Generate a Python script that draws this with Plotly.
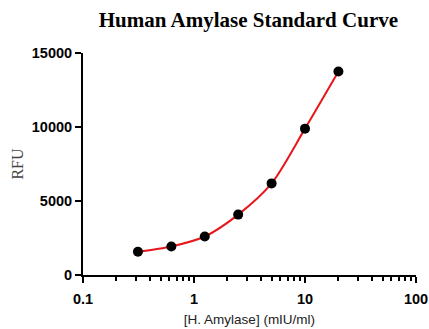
import plotly.graph_objects as go

conc = [0.3125, 0.625, 1.25, 2.5, 5, 10, 20]
rfu = [1570, 1930, 2600, 4080, 6190, 9890, 13750]
x_ticks = [0.1, 1, 10, 100]
x_tick_labels = ["0.1", "1", "10", "100"]
x_minor_ticks = [d * m for d in [0.1, 1, 10] for m in range(2, 10)]
y_ticks = [0, 5000, 10000, 15000]
y_tick_labels = ["0", "5000", "10000", "15000"]

fig = go.Figure()
fig.add_trace(go.Scatter(x=conc, y=rfu, mode="lines", line=dict(color="#e8161b", width=2, shape="spline", smoothing=0.8),
                         hoverinfo="skip", showlegend=False))
fig.add_trace(go.Scatter(x=conc, y=rfu, mode="markers", marker=dict(color="black", size=10),
                         showlegend=False))

fig.update_layout(
    width=429, height=329,
    margin=dict(l=83, r=13, t=53, b=54, autoexpand=False),
    paper_bgcolor="white", plot_bgcolor="white",
    title=dict(text="<b>Human Amylase Standard Curve</b>", x=0.579, xanchor="center", y=1 - 20 / 329, yanchor="middle",
               font=dict(family="Liberation Serif", size=21, color="black")),
)
fig.update_xaxes(type="log", range=[-1, 2], tickvals=x_ticks, ticktext=x_tick_labels, automargin=False,
                 showline=True, linecolor="black", linewidth=2, ticks="outside", ticklen=6, tickwidth=2,
                 tickcolor="black", showgrid=False, zeroline=False, ticklabelstandoff=4, ticklabeloverflow="allow",
                 tickfont=dict(family="Liberation Sans", size=14.5, color="black", weight="bold"),
                 minor=dict(tickvals=x_minor_ticks, ticks="outside", ticklen=4, tickwidth=2, tickcolor="black", showgrid=False),
                 title=dict(text="[H. Amylase] (mIU/ml)", standoff=8,
                            font=dict(family="Liberation Sans", size=13.5, color="#222")))
fig.update_yaxes(range=[0, 15000], tickvals=y_ticks, ticktext=y_tick_labels, automargin=False,
                 showline=True, linecolor="black", linewidth=2,
                 ticks="outside", ticklen=6, tickwidth=2, tickcolor="black", showgrid=False, zeroline=False,
                 tickfont=dict(family="Liberation Sans", size=14.5, color="black", weight="bold"),
                 title=dict(text="RFU", standoff=4, font=dict(family="Liberation Serif", size=16, color="#444")))

fig.write_html("out.html", config={"displayModeBar": False},
               post_script="document.body.style.margin='0';document.body.style.overflow='hidden';")
